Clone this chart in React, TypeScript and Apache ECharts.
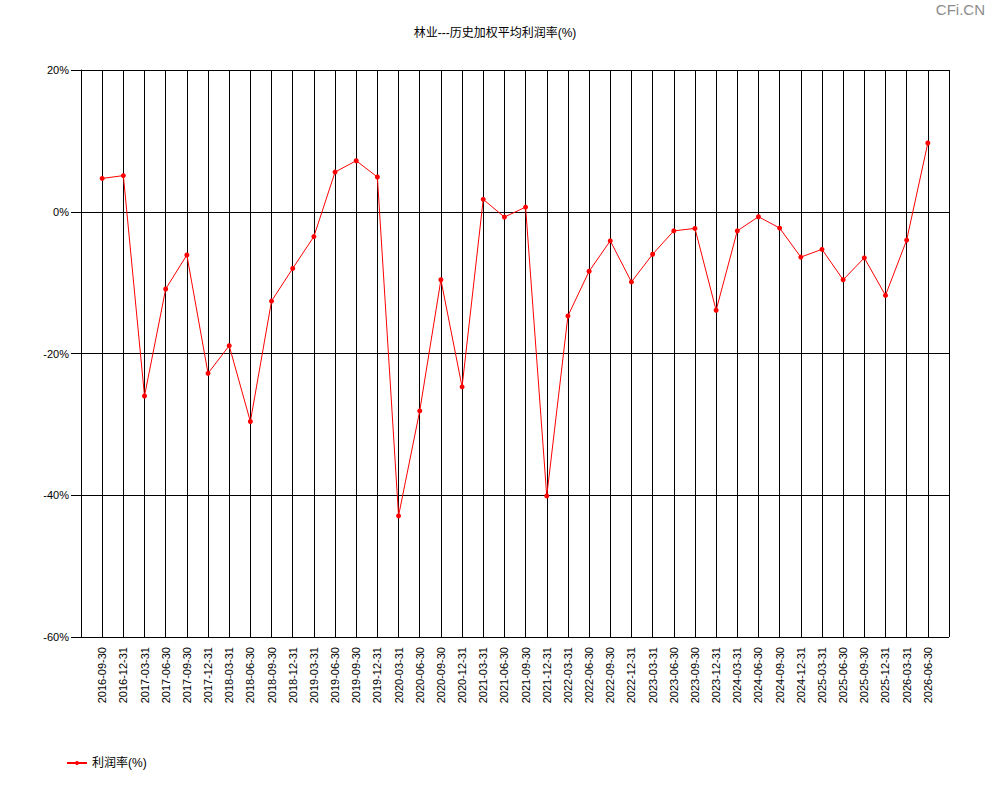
import React, { useEffect, useRef } from "react";
import * as echarts from "echarts";

const categories = [
  "2016-09-30", "2016-12-31",
  "2017-03-31", "2017-06-30", "2017-09-30", "2017-12-31",
  "2018-03-31", "2018-06-30", "2018-09-30", "2018-12-31",
  "2019-03-31", "2019-06-30", "2019-09-30", "2019-12-31",
  "2020-03-31", "2020-06-30", "2020-09-30", "2020-12-31",
  "2021-03-31", "2021-06-30", "2021-09-30", "2021-12-31",
  "2022-03-31", "2022-06-30", "2022-09-30", "2022-12-31",
  "2023-03-31", "2023-06-30", "2023-09-30", "2023-12-31",
  "2024-03-31", "2024-06-30", "2024-09-30", "2024-12-31",
  "2025-03-31", "2025-06-30", "2025-09-30", "2025-12-31",
  "2026-03-31", "2026-06-30",
];

const profitRate = [
  4.7, 5.1,
  -26.0, -10.9, -6.1, -22.8,
  -18.9, -29.6, -12.6, -8.0,
  -3.5, 5.6, 7.2, 4.9,
  -42.9, -28.1, -9.6, -24.7,
  1.75, -0.75, 0.66, -40.1,
  -14.7, -8.4, -4.1, -9.9,
  -6.0, -2.7, -2.35, -13.9,
  -2.7, -0.7, -2.3, -6.4,
  -5.3, -9.6, -6.5, -11.8,
  -4.0, 9.7,
];

const yMin = -60;
const yMax = 20;
const yStep = 20;

const titleText = "林业---历史加权平均利润率(%)";
const seriesName = "利润率(%)";
const watermark = "CFi.CN";

const FONT = "'Liberation Sans', 'Noto Sans CJK SC', sans-serif";

export default function App() {
  const ref = useRef<HTMLDivElement>(null);

  useEffect(() => {
    document.body.style.margin = "0";
    const chart = echarts.init(ref.current!, null, { renderer: "svg" });
    const data = profitRate.map((v, i) => [i + 1, v]);
    chart.setOption({
      animation: false,
      backgroundColor: "#ffffff",
      textStyle: { fontFamily: FONT },
      title: {
        text: titleText,
        left: "center",
        top: 22,
        textStyle: { fontSize: 12, fontWeight: "normal", color: "#000", fontFamily: FONT },
      },
      graphic: [
        {
          type: "text",
          right: 5,
          top: 2,
          style: { text: watermark, fontSize: 15, fill: "#8c8c8c", fontFamily: FONT, fontWeight: "normal" },
        },
      ],
      legend: {
        left: 61,
        top: 752,
        itemWidth: 20,
        itemHeight: 5,
        itemGap: 10,
        lineStyle: { width: 2 },
        textStyle: { fontSize: 12, color: "#000", fontFamily: FONT },
        data: [seriesName],
      },
      grid: { left: 81, right: 41, top: 70, bottom: 163, containLabel: false },
      xAxis: {
        type: "value",
        min: 0,
        max: categories.length + 1,
        interval: 1,
        axisLine: { show: true, lineStyle: { color: "#000", width: 1 } },
        axisTick: { show: true, length: 8, lineStyle: { color: "#000" } },
        splitLine: { show: true, lineStyle: { color: "#000", width: 1 } },
        axisLabel: {
          rotate: 90,
          margin: 10,
          fontSize: 11,
          color: "#000",
          fontFamily: FONT,
          showMinLabel: true,
          showMaxLabel: true,
          formatter: (v: number) => {
            const idx = Math.round(v) - 1;
            return idx >= 0 && idx < categories.length ? categories[idx] : "";
          },
        },
      },
      yAxis: {
        type: "value",
        min: yMin,
        max: yMax,
        interval: yStep,
        axisLine: { show: true, lineStyle: { color: "#000", width: 1 } },
        axisTick: { show: true, length: 10, lineStyle: { color: "#000" } },
        splitLine: { show: true, lineStyle: { color: "#000", width: 1 } },
        axisLabel: {
          margin: 12,
          fontSize: 11,
          color: "#000",
          fontFamily: FONT,
          formatter: (v: number) => `${v}%`,
        },
      },
      series: [
        {
          name: seriesName,
          type: "line",
          data,
          symbol: "circle",
          symbolSize: 5,
          lineStyle: { color: "#ff0000", width: 1 },
          itemStyle: { color: "#ff0000" },
        },
      ],
    });
    return () => chart.dispose();
  }, []);

  return <div ref={ref} style={{ width: 990, height: 800 }} />;
}
